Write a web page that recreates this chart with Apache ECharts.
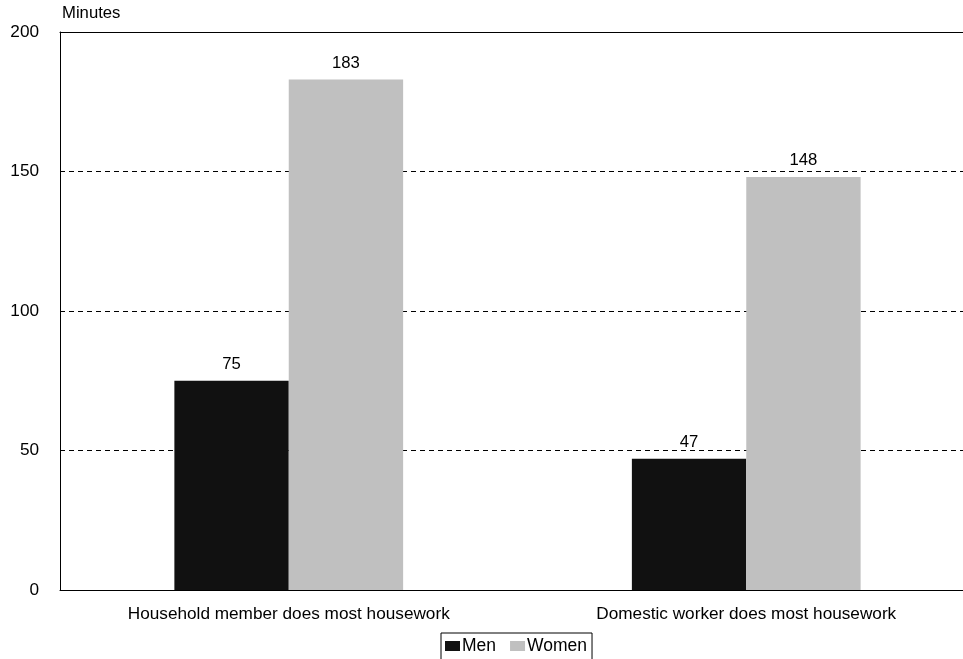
<!DOCTYPE html>
<html><head><meta charset="utf-8">
<script src="https://cdn.jsdelivr.net/npm/echarts@6/dist/echarts.min.js"></script>
<style>html,body{margin:0;padding:0;background:#fff}#c{width:963px;height:659px}</style>
</head><body><div id="c"></div>
<script>
const categories = ["Household member does most housework", "Domestic worker does most housework"];
const men = [75, 47];
const women = [183, 148];
const seriesNames = ["Men", "Women"];
const yTicks = [0, 50, 100, 150, 200];

const font = "Liberation Sans, Arial, sans-serif";
const fs = 16.7;
const chart = echarts.init(document.getElementById('c'));
chart.setOption({
  animation: false,
  textStyle: { fontFamily: font },
  grid: { left: 60, top: 32, width: 915, bottom: 69, containLabel: false, outerBoundsMode: 'none' },
  legend: {
    top: 633, left: 441,
    data: seriesNames,
    icon: 'rect', itemWidth: 15, itemHeight: 10, itemGap: 14,
    borderColor: '#000', borderWidth: 1, padding: [4, 5, 12, 4],
    textStyle: { fontSize: 17.5, color: '#000', padding: [0, 0, 0, -3] }
  },
  xAxis: [{
    type: 'category', data: categories,
    axisLine: { lineStyle: { color: '#000', width: 1 } },
    axisTick: { show: false },
    axisLabel: { color: '#000', fontSize: 17.2, margin: 16 }
  }, {
    type: 'category', data: categories, position: 'top',
    axisLine: { show: true, lineStyle: { color: '#000', width: 1 } },
    axisTick: { show: false }, axisLabel: { show: false }
  }],
  yAxis: {
    type: 'value', min: yTicks[0], max: yTicks[yTicks.length - 1], interval: 50,
    name: 'Minutes', nameLocation: 'end', nameGap: 10,
    nameTextStyle: { color: '#000', fontSize: fs, align: 'left', padding: [0, 0, 0, 2] },
    axisLine: { show: true, lineStyle: { color: '#000', width: 1 } },
    axisTick: { show: false },
    axisLabel: { color: '#000', fontSize: 17.2, margin: 21 },
    splitLine: { lineStyle: { color: '#000', type: [5, 4], width: 1 } }
  },
  series: [{
    name: seriesNames[0], type: 'bar', data: men, barGap: '0%', barCategoryGap: '50%',
    itemStyle: { color: '#111111' },
    label: { show: true, position: 'top', color: '#000', fontSize: fs, distance: 8 }
  }, {
    name: seriesNames[1], type: 'bar', data: women, barGap: '0%', barCategoryGap: '50%',
    itemStyle: { color: '#c0c0c0' },
    label: { show: true, position: 'top', color: '#000', fontSize: fs, distance: 8 }
  }]
});
</script></body></html>
